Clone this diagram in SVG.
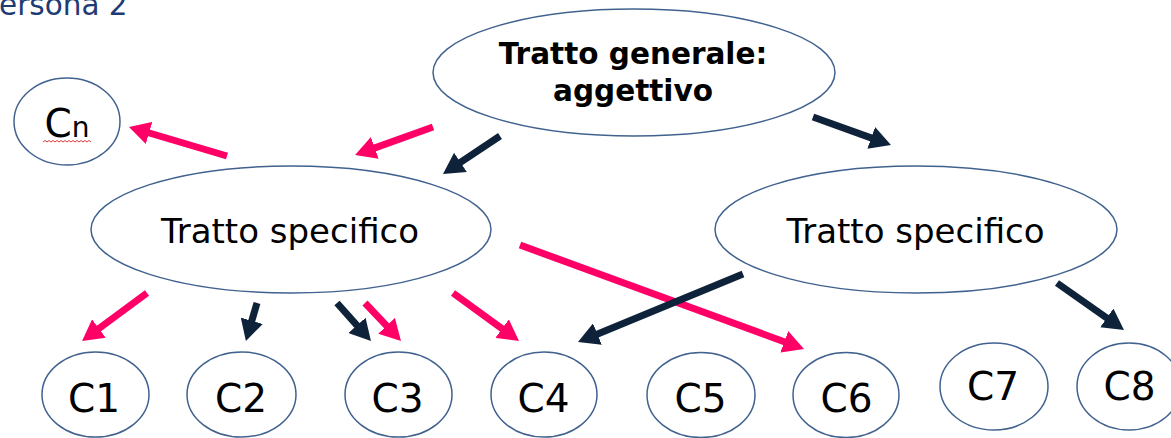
<svg xmlns="http://www.w3.org/2000/svg" width="1171" height="438" viewBox="0 0 1171 438">
<style>
.node{fill:#fff;stroke:#41628f;stroke-width:1.5}
.t{font-family:"DejaVu Sans",Verdana,sans-serif;fill:#000;text-anchor:middle}
.tb{font-weight:bold;font-size:29.5px}
.ts{font-size:34px}
.tc{font-size:39px}
.p{stroke:#ff0066;stroke-width:7;fill:none}
.d{stroke:#0e2239;stroke-width:7;fill:none}
</style>
<defs>
<marker id="ap" markerUnits="userSpaceOnUse" markerWidth="21" markerHeight="23" viewBox="0 0 21 23" refX="5" refY="11.5" orient="auto">
<path d="M0,0 L21,11.5 L0,23 z" fill="#ff0066"/>
</marker>
<marker id="ad" markerUnits="userSpaceOnUse" markerWidth="21" markerHeight="23" viewBox="0 0 21 23" refX="5" refY="11.5" orient="auto">
<path d="M0,0 L21,11.5 L0,23 z" fill="#0e2239"/>
</marker>
</defs>
<rect width="1171" height="438" fill="#fff"/>
<text x="-1" y="15" style="font-family:'DejaVu Sans',Verdana,sans-serif;font-size:29.5px;fill:#1f3b73">ersona 2</text>

<g id="connectors">
<line class="p" x1="227" y1="156" x2="144.3" y2="131.5" marker-end="url(#ap)"/>
<line class="p" x1="433" y1="127" x2="370.1" y2="149.6" marker-end="url(#ap)"/>
<line class="d" x1="500" y1="136" x2="456.3" y2="165.1" marker-end="url(#ad)"/>
<line class="d" x1="813" y1="117" x2="875.9" y2="139.6" marker-end="url(#ad)"/>
<line class="p" x1="147" y1="293" x2="94.9" y2="331.5" marker-end="url(#ap)"/>
<line class="d" x1="257" y1="303" x2="250.4" y2="325.6" marker-end="url(#ad)"/>
<line class="d" x1="337" y1="303" x2="360.3" y2="329.1" marker-end="url(#ad)"/>
<line class="p" x1="365" y1="303" x2="390" y2="329.4" marker-end="url(#ap)"/>
<line class="p" x1="453" y1="293" x2="506.1" y2="331.6" marker-end="url(#ap)"/>
<line class="p" x1="520" y1="245" x2="789" y2="343.5" marker-end="url(#ap)"/>
<line class="d" x1="743" y1="274" x2="592.8" y2="335.9" marker-end="url(#ad)"/>
<line class="d" x1="1057" y1="283" x2="1110.9" y2="320.8" marker-end="url(#ad)"/>
</g>

<g id="general">
<ellipse class="node" cx="634" cy="72.5" rx="201" ry="63.5"/>
<text class="t tb" x="633" y="64">Tratto generale:</text>
<text class="t tb" x="633" y="101">aggettivo</text>
</g>
<g id="specific-left">
<ellipse class="node" cx="291" cy="229.5" rx="200" ry="63.5"/>
<text class="t ts" x="290" y="243">Tratto specifico</text>
</g>
<g id="specific-right">
<ellipse class="node" cx="916" cy="229.5" rx="201" ry="63.5"/>
<text class="t ts" x="915.5" y="243">Tratto specifico</text>
</g>
<g id="cn">
<ellipse class="node" cx="67" cy="121.5" rx="53" ry="43.5"/>
<text class="t" x="67" y="137" style="font-size:39px">C<tspan style="font-size:28px">n</tspan></text>
<path d="M43,142 l2,-1.5 l2,1.5 l2,-1.5 l2,1.5 l2,-1.5 l2,1.5 l2,-1.5 l2,1.5 l2,-1.5 l2,1.5 l2,-1.5 l2,1.5 l2,-1.5 l2,1.5 l2,-1.5 l2,1.5 l2,-1.5 l2,1.5 l2,-1.5 l2,1.5 l2,-1.5 l2,1.5 l2,-1.5 l2,1.5" fill="none" stroke="#e23a3a" stroke-width="1"/>
</g>
<g id="c1"><ellipse class="node" cx="95.5" cy="394.5" rx="53.5" ry="42.5"/><text class="t tc" x="94" y="412">C1</text></g>
<g id="c2"><ellipse class="node" cx="241.5" cy="394.5" rx="54.5" ry="42.5"/><text class="t tc" x="241" y="412">C2</text></g>
<g id="c3"><ellipse class="node" cx="398.5" cy="394.5" rx="53.5" ry="42.5"/><text class="t tc" x="397.5" y="412">C3</text></g>
<g id="c4"><ellipse class="node" cx="544" cy="394.5" rx="53" ry="42.5"/><text class="t tc" x="543.5" y="412">C4</text></g>
<g id="c5"><ellipse class="node" cx="701" cy="395" rx="54" ry="42.5"/><text class="t tc" x="700.5" y="412">C5</text></g>
<g id="c6"><ellipse class="node" cx="846" cy="395" rx="53" ry="42.5"/><text class="t tc" x="846.5" y="412">C6</text></g>
<g id="c7"><ellipse class="node" cx="994" cy="386.5" rx="54" ry="43.5"/><text class="t tc" x="993" y="400">C7</text></g>
<g id="c8"><ellipse class="node" cx="1129" cy="386.5" rx="52" ry="43.5"/><text class="t tc" x="1129.5" y="400">C8</text></g>
</svg>
